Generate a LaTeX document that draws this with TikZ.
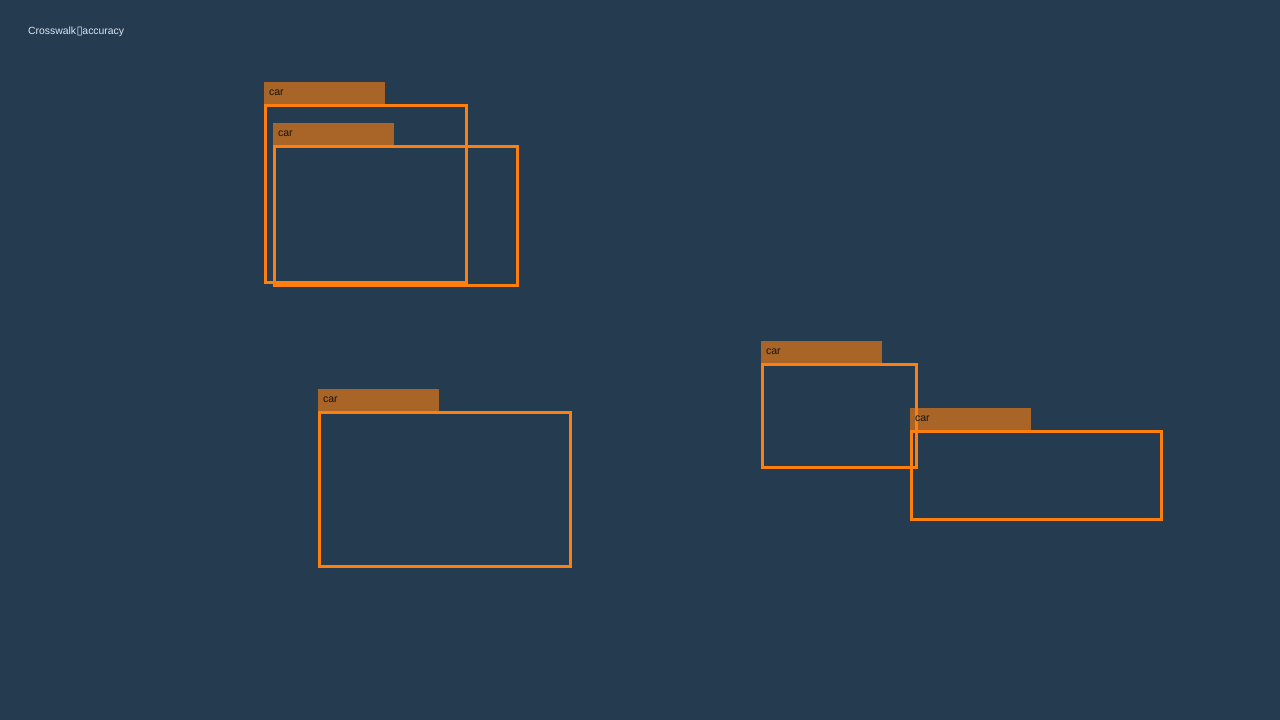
\documentclass[tikz,border=0pt]{standalone}
\usepackage{fontspec}
\setmainfont{Liberation Sans}
\newfontfamily\tofufont{DejaVu Sans}
\usetikzlibrary{positioning}

\definecolor{nightblue}{HTML}{243B50}
\definecolor{carorange}{HTML}{FF7F0E}
\definecolor{titlegrey}{HTML}{DCE6F0}
\definecolor{tagink}{HTML}{141414}

\tikzset{
	carbox/.style={draw=carorange, line width=3pt, inner sep=0pt, outer sep=0pt, anchor=north west},
	cartag/.style={fill=carorange, fill opacity=0.61, text opacity=1, text=tagink,
		inner xsep=5pt, inner ysep=0pt, outer sep=0pt, text width=111pt, minimum height=22pt,
		anchor=south west, font=\fontsize{10.5}{12}\selectfont},
}

\begin{document}
\begin{tikzpicture}[x=1pt,y=-1pt]

	\useasboundingbox (0,0) rectangle (1280,720);
	\fill[nightblue] (0,0) rectangle (1280,720);

	\node[anchor=base west, inner sep=0pt, text=titlegrey, font=\fontsize{10.4}{12}\selectfont] (title) at (28,34.5) {Crosswalk\hspace{0.5pt}{\tofufont\fontsize{11.5}{12}\selectfont ▯}\hspace{-0.5pt}accuracy};

	% detections
	\node[carbox, minimum width=200.5pt, minimum height=177pt] (carA) at (265.5,105.5) {};
	\node[cartag] (tagA) at ([xshift=-1.5pt,yshift=1.5pt]carA.north west) {car};

	\node[carbox, minimum width=243pt, minimum height=138.5pt] (carB) at (274.5,146.5) {};
	\node[cartag] (tagB) at ([xshift=-1.5pt,yshift=1.5pt]carB.north west) {car};

	\node[carbox, minimum width=251pt, minimum height=153.7pt] (carC) at (319.5,412.5) {};
	\node[cartag] (tagC) at ([xshift=-1.5pt,yshift=1.5pt]carC.north west) {car};

	\node[carbox, minimum width=153.7pt, minimum height=102.7pt] (carD) at (762.5,364.5) {};
	\node[cartag] (tagD) at ([xshift=-1.5pt,yshift=1.5pt]carD.north west) {car};

	\node[carbox, minimum width=250pt, minimum height=87.7pt] (carE) at (911.5,431.5) {};
	\node[cartag] (tagE) at ([xshift=-1.5pt,yshift=1.5pt]carE.north west) {car};

\end{tikzpicture}
\end{document}
